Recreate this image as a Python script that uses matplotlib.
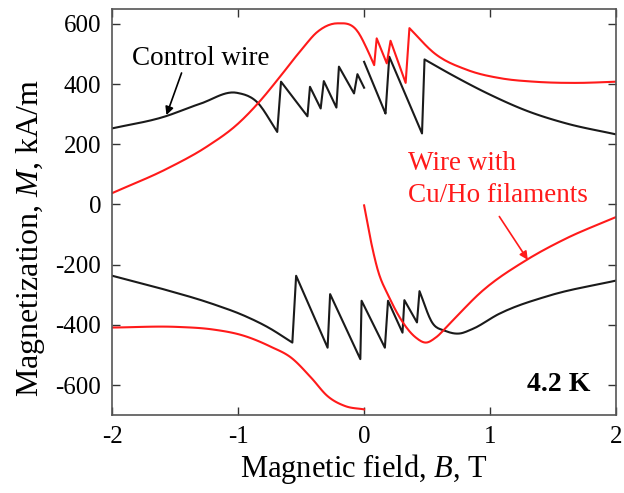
import numpy as np
import matplotlib
matplotlib.use("Agg")
import matplotlib.pyplot as plt

plt.rcParams['font.family'] = ['Liberation Serif', 'DejaVu Serif']
plt.rcParams['mathtext.fontset'] = 'custom'
plt.rcParams['mathtext.it'] = 'Liberation Serif:italic'
plt.rcParams['axes.unicode_minus'] = False

# Control wire, upper branch (two pieces, broken at B = 0)
ctrl_up1_B = [-2.0, -1.6, -1.3, -1.01, -0.85, -0.69, -0.66, -0.45, -0.43, -0.345, -0.32,
              -0.22, -0.20, -0.08, -0.053, 0.0]
ctrl_up1_M = [253, 290, 335, 371, 340, 241, 408, 293, 391, 319, 410,
              322, 458, 369, 433, 388]
ctrl_up2_B = [0.0, 0.17, 0.20, 0.46, 0.48, 0.7, 1.0, 1.3, 1.6, 2.0]
ctrl_up2_M = [474, 302, 491, 236, 482, 430, 365, 310, 270, 233]

# Control wire, lower branch
ctrl_lo_B = [-2.0, -1.6, -1.2, -0.95, -0.76, -0.57, -0.54, -0.29, -0.27, -0.03, -0.02,
             0.165, 0.19, 0.305, 0.32, 0.42, 0.44, 0.54, 0.645, 0.754, 0.86, 1.07, 1.47, 2.0]
ctrl_lo_M = [-237, -281, -331, -370, -409, -459, -237, -476, -298, -514, -320,
             -476, -320, -426, -318, -392, -288, -392, -420, -429, -414, -364, -303, -253]

# Cu/Ho wire, upper branch
cuho_up_B = [-2.0, -1.56, -1.25, -1.0, -0.82, -0.69, -0.5, -0.37, -0.21, -0.05, 0.027,
             0.08, 0.10, 0.18, 0.21, 0.33, 0.36, 0.56, 0.82, 1.09, 1.35, 1.7, 2.0]
cuho_up_M = [38, 120, 192, 269, 347, 413, 513, 574, 602, 574, 513,
             463, 552, 469, 544, 404, 586, 502, 447, 419, 408, 404, 408]

# Cu/Ho wire, lower branch (two pieces, broken at B = 0)
cuho_lo1_B = [-2.0, -1.48, -1.21, -0.95, -0.74, -0.58, -0.42, -0.29, -0.15, 0.0]
cuho_lo1_M = [-409, -407, -415, -437, -473, -509, -576, -637, -670, -681]
cuho_lo2_B = [0.0, 0.053, 0.106, 0.2, 0.30, 0.41, 0.49, 0.57, 0.675, 0.94,
              1.28, 1.6, 2.0]
cuho_lo2_M = [-3, -120, -214, -309, -387, -442, -459, -442, -398, -287,
              -187, -114, -42]

x_ticks = [-2, -1, 0, 1, 2]
y_ticks = [-600, -400, -200, 0, 200, 400, 600]


def smooth(bs, ms, n=14):
    # cubic Hermite through the read points; a step closer than 0.04 T is a jump
    bs = np.asarray(bs, float)
    ms = np.asarray(ms, float)
    cuts = [0] + [i + 1 for i in range(len(bs) - 1) if bs[i + 1] - bs[i] < 0.04] + [len(bs)]
    out_b, out_m = [], []
    for a, z in zip(cuts[:-1], cuts[1:]):
        b, m = bs[a:z], ms[a:z]
        if len(b) < 2:
            out_b.extend(b)
            out_m.extend(m)
            continue
        d = np.gradient(m, b) if len(b) > 2 else np.full(2, (m[1] - m[0]) / (b[1] - b[0]))
        out_b.append(b[0])
        out_m.append(m[0])
        for i in range(len(b) - 1):
            h = b[i + 1] - b[i]
            t = np.linspace(0, 1, n)[1:]
            h00 = 2 * t ** 3 - 3 * t ** 2 + 1
            h10 = t ** 3 - 2 * t ** 2 + t
            h01 = -2 * t ** 3 + 3 * t ** 2
            h11 = t ** 3 - t ** 2
            out_b.extend(b[i] + h * t)
            out_m.extend(h00 * m[i] + h10 * h * d[i] + h01 * m[i + 1] + h11 * h * d[i + 1])
    return np.array(out_b), np.array(out_m)


fig = plt.figure(figsize=(6.24, 4.93), dpi=100)
ax = fig.add_axes([0.18, 0.158, 0.807, 0.824])

for b, m in [(ctrl_up1_B, ctrl_up1_M), (ctrl_up2_B, ctrl_up2_M), (ctrl_lo_B, ctrl_lo_M)]:
    ax.plot(*smooth(b, m), color='#1a1a1a', lw=1.5)
for b, m in [(cuho_up_B, cuho_up_M), (cuho_lo1_B, cuho_lo1_M), (cuho_lo2_B, cuho_lo2_M)]:
    ax.plot(*smooth(b, m), color='#ff1a1a', lw=1.5)

ax.set_xlim(-2, 2)
ax.set_ylim(-700, 650)
ax.set_xticks(x_ticks)
ax.set_yticks(y_ticks)
ax.tick_params(direction='in', top=True, right=True, length=6, width=1,
               labelsize=18, pad=8, colors='#333333', labelcolor='black')
for s in ax.spines.values():
    s.set_color('#555555')
    s.set_linewidth(1.2)

ax.set_xlabel('Magnetic field, $\\it{B}$, T', fontsize=22, labelpad=3)
ax.set_ylabel('Magnetization, $\\it{M}$, kA/m', fontsize=23)
ax.yaxis.set_label_coords(-0.13, 0.436)

ax.text(-1.30, 462, 'Control wire', fontsize=19.5, ha='center', va='baseline')
ax.annotate('', xy=(-1.57, 297), xytext=(-1.45, 437),
            arrowprops=dict(arrowstyle='-|>', color='black', lw=1.2,
                            mutation_scale=12, shrinkA=0, shrinkB=0))
ax.text(0.345, 136, 'Wire with', color='#ff1a1a', fontsize=19.5, va='center', ha='left')
ax.text(0.345, 30, 'Cu/Ho filaments', color='#ff1a1a', fontsize=19.5, va='center', ha='left')
ax.annotate('', xy=(1.30, -184), xytext=(1.074, -40),
            arrowprops=dict(arrowstyle='-|>', color='#ff1a1a', lw=1.2,
                            mutation_scale=12, shrinkA=0, shrinkB=0))
ax.text(1.80, -598, '4.2 K', fontsize=20, fontweight='bold', ha='right', va='center')

fig.savefig('out.png', dpi=100)
